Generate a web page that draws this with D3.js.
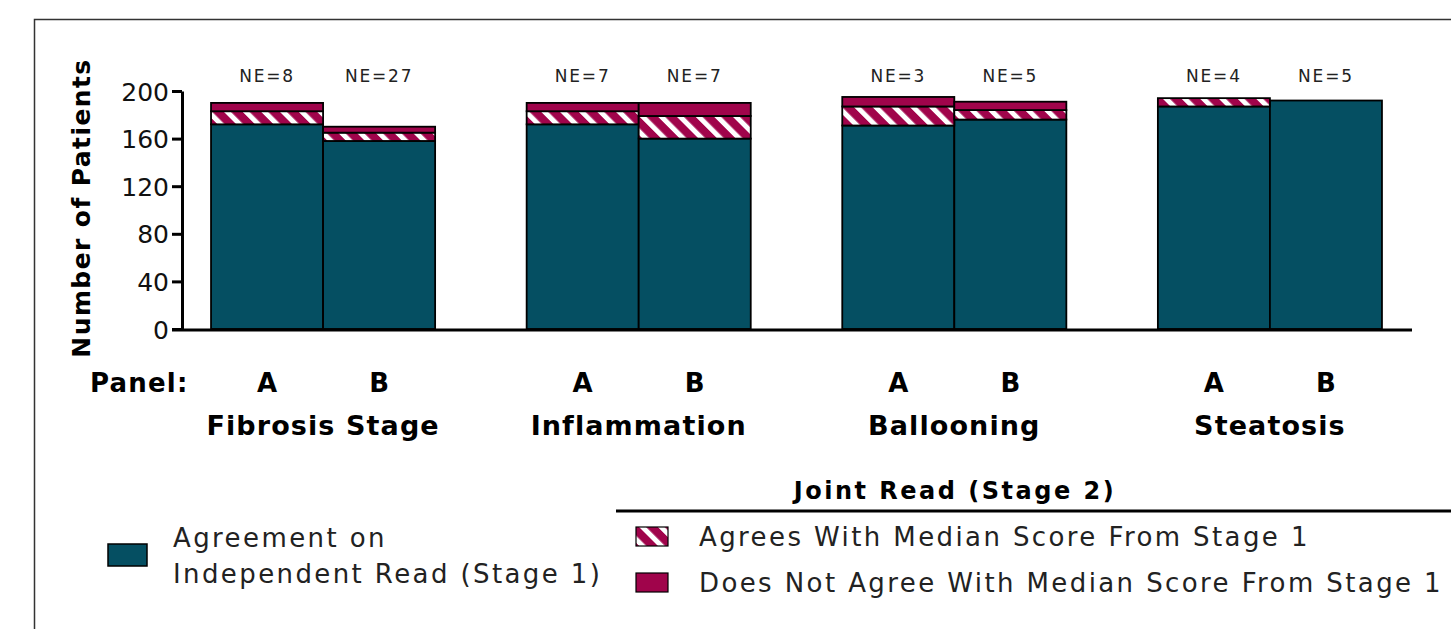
<!DOCTYPE html>
<html>
<head>
<meta charset="utf-8">
<script src="https://cdn.jsdelivr.net/npm/d3@7"></script>
<style>
  body { margin: 0; background: #fff; }
  svg { display: block; }
</style>
</head>
<body>
<svg id="chart" width="1451" height="629"></svg>
<script>
// Histology features and reading panels
const categories = ["Fibrosis Stage", "Inflammation", "Ballooning", "Steatosis"];
const panels = ["A", "B"];
// Patients per feature/panel: [panel A, panel B]
const independentAgree = [[172, 158], [172, 160], [171, 176], [187, 192]];
const jointAgree       = [[11, 7],    [11, 19],   [16, 8],    [7, 0]];
const jointDisagree    = [[7, 5],     [7, 11],    [8, 7],     [0, 0]];
const notEvaluable     = [[8, 27],    [7, 7],     [3, 5],     [4, 5]];
const yTicks = [0, 40, 80, 120, 160, 200];

const keys = ["independent", "jointAgree", "jointDisagree"];
const rows = [];
categories.forEach((c, i) => panels.forEach((p, j) => rows.push({
  category: c, panel: p,
  independent: independentAgree[i][j],
  jointAgree: jointAgree[i][j],
  jointDisagree: jointDisagree[i][j],
  ne: notEvaluable[i][j]
})));

const TEAL = "#054F62";
const MAROON = "#A0044B";
const FONT = "'DejaVu Sans', sans-serif";

const svg = d3.select("#chart");
const defs = svg.append("defs");
const pat = defs.append("pattern")
  .attr("id", "hatch")
  .attr("patternUnits", "userSpaceOnUse")
  .attr("width", 13.2).attr("height", 13.2)
  .attr("patternTransform", "rotate(-45)");
pat.append("rect").attr("width", 13.2).attr("height", 13.2).attr("fill", MAROON);
pat.append("rect").attr("x", 0).attr("width", 5).attr("height", 13.2).attr("fill", "#fff");

const fills = { independent: TEAL, jointAgree: "url(#hatch)", jointDisagree: MAROON };

// outer frame
svg.append("rect")
  .attr("x", 34.5).attr("y", 19.5).attr("width", 1500).attr("height", 800)
  .attr("fill", "none").attr("stroke", "#333").attr("stroke-width", 1.5);

const y = d3.scaleLinear().domain([0, 200]).range([329, 91]);
const x0 = d3.scaleBand().domain(categories).range([182, 1411])
  .paddingInner(0.29).paddingOuter(0.092);
const x1 = d3.scaleBand().domain(panels).range([0, x0.bandwidth()]);

const series = d3.stack().keys(keys)(rows);

const g = svg.append("g");
series.forEach(s => {
  g.append("g").selectAll("rect")
    .data(s.filter(d => d[1] - d[0] > 0))
    .join("rect")
    .attr("x", d => x0(d.data.category) + x1(d.data.panel))
    .attr("width", x1.bandwidth())
    .attr("y", d => y(d[1]))
    .attr("height", d => y(d[0]) - y(d[1]))
    .attr("fill", fills[s.key])
    .attr("stroke", "#000")
    .attr("stroke-width", 1.8);
});

const barCenter = d => x0(d.category) + x1(d.panel) + x1.bandwidth() / 2;

// NE counts above bars
svg.append("g").selectAll("text")
  .data(rows).join("text")
  .attr("x", barCenter)
  .attr("y", 82)
  .attr("text-anchor", "middle")
  .attr("font-family", FONT).attr("font-size", 17).attr("letter-spacing", 1.8)
  .attr("fill", "#222")
  .text(d => "NE=" + d.ne);

// y axis
const yAxis = svg.append("g")
  .attr("transform", "translate(182,0)")
  .call(d3.axisLeft(y).tickValues(yTicks).tickSize(10).tickSizeOuter(0).tickPadding(3));
yAxis.select(".domain").attr("stroke", "#000").attr("stroke-width", 3);
yAxis.selectAll(".tick line").attr("stroke", "#000").attr("stroke-width", 3);
yAxis.selectAll(".tick text")
  .attr("font-family", FONT).attr("font-size", 25).attr("fill", "#111")
  .attr("dy", "0.36em");

// x axis baseline
svg.append("line")
  .attr("x1", 172).attr("x2", x0.range()[1] + 1)
  .attr("y1", y(0) + 1).attr("y2", y(0) + 1)
  .attr("stroke", "#000").attr("stroke-width", 3);

// y title
svg.append("text")
  .attr("transform", "translate(90,208) rotate(-90)")
  .attr("text-anchor", "middle")
  .attr("font-family", FONT).attr("font-weight", "bold").attr("font-size", 25)
  .attr("letter-spacing", 1.4)
  .text("Number of Patients");

// panel labels
svg.append("text")
  .attr("x", 90).attr("y", 392)
  .attr("font-family", FONT).attr("font-weight", "bold").attr("font-size", 26)
  .attr("letter-spacing", 1.2)
  .text("Panel:");
svg.append("g").selectAll("text")
  .data(rows).join("text")
  .attr("x", barCenter)
  .attr("y", 392)
  .attr("text-anchor", "middle")
  .attr("font-family", FONT).attr("font-weight", "bold").attr("font-size", 26)
  .text(d => d.panel);

// category labels
svg.append("g").selectAll("text")
  .data(categories).join("text")
  .attr("x", c => x0(c) + x0.bandwidth() / 2)
  .attr("y", 435)
  .attr("text-anchor", "middle")
  .attr("font-family", FONT).attr("font-weight", "bold").attr("font-size", 27)
  .attr("letter-spacing", 1.1)
  .text(c => c);

// legend: stage 1
const LEG_SIZE = 26, LEG_SP = 2.4;
svg.append("rect")
  .attr("x", 108).attr("y", 544).attr("width", 39).attr("height", 22)
  .attr("fill", TEAL).attr("stroke", "#000").attr("stroke-width", 1.5);
[["Agreement on", 547], ["Independent Read (Stage 1)", 583]].forEach(([t, ty]) => {
  svg.append("text").attr("x", 173).attr("y", ty)
    .attr("font-family", FONT).attr("font-size", LEG_SIZE).attr("letter-spacing", LEG_SP)
    .attr("fill", "#222")
    .text(t);
});

// legend: stage 2
svg.append("text").attr("x", 955).attr("y", 499)
  .attr("text-anchor", "middle")
  .attr("font-family", FONT).attr("font-weight", "bold").attr("font-size", 24)
  .attr("letter-spacing", 2.5)
  .text("Joint Read (Stage 2)");
svg.append("line")
  .attr("x1", 616).attr("x2", 1451).attr("y1", 511).attr("y2", 511)
  .attr("stroke", "#000").attr("stroke-width", 3);

const legend2 = [
  { fill: "url(#hatch)", label: "Agrees With Median Score From Stage 1", y: 527 },
  { fill: MAROON, label: "Does Not Agree With Median Score From Stage 1", y: 573 }
];
legend2.forEach(d => {
  svg.append("rect")
    .attr("x", 636).attr("y", d.y).attr("width", 32).attr("height", 19)
    .attr("fill", d.fill).attr("stroke", "#000").attr("stroke-width", 1.2);
  svg.append("text").attr("x", 699).attr("y", d.y + 19)
    .attr("font-family", FONT).attr("font-size", LEG_SIZE).attr("letter-spacing", LEG_SP)
    .attr("fill", "#222")
    .text(d.label);
});
</script>
</body>
</html>
